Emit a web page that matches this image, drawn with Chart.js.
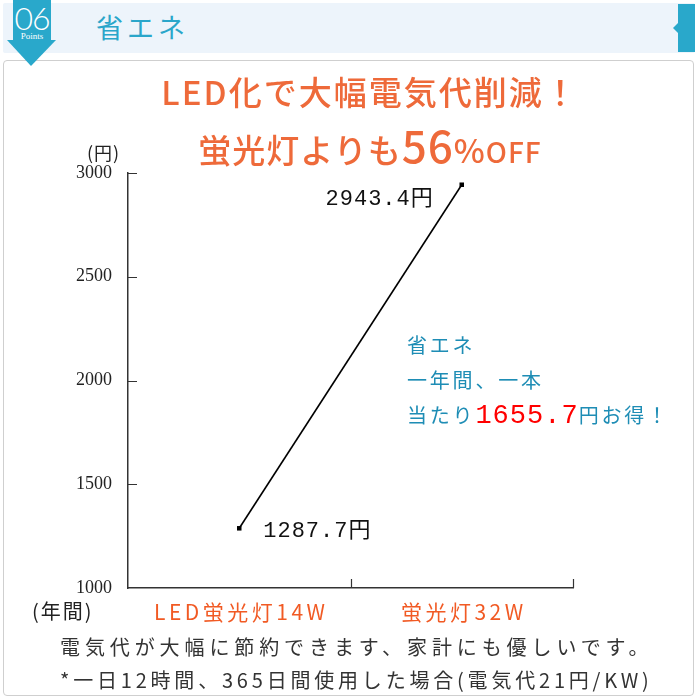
<!DOCTYPE html>
<html lang="ja">
<head>
<meta charset="utf-8">
<title>省エネ</title>
<script src="https://cdn.jsdelivr.net/npm/chart.js@4.4.1/dist/chart.umd.min.js"></script>
<style>
  html, body { margin: 0; padding: 0; background: #fff; }
  #stage { position: relative; width: 700px; height: 700px; overflow: hidden; font-family: "Noto Sans CJK JP", sans-serif; }
  #band { position: absolute; left: 3px; top: 3px; width: 692px; height: 50px; background: #EDF4FB; border-radius: 2px; }
  #frame { position: absolute; left: 3px; top: 60px; width: 689px; height: 634px; border: 1.5px solid #cfcfcf; border-radius: 4px; background: #fff; }
  #deco { position: absolute; left: 0; top: 0; }
  .t { position: absolute; white-space: nowrap; line-height: 1; }
  #head { left: 96px; top: 13px; font-size: 27px; color: #2AA6CA; letter-spacing: 4px; }
  #num { left: 13px; top: 2px; width: 38px; text-align: center; font-family: Lato, sans-serif; font-weight: 300; font-size: 32px; color: #fff; letter-spacing: -1px; }
  #pts { left: 13px; top: 32px; width: 38px; text-align: center; font-family: "Liberation Serif", serif; font-size: 9px; color: #fff; }
  #title1 { left: 0; width: 740px; text-align: center; top: 75px; font-size: 33px; font-weight: 500; color: #EE6A3A; letter-spacing: 2px; }
  #title2 { left: 0; width: 740px; text-align: center; top: 122px; font-size: 33px; font-weight: 500; color: #EE6A3A; letter-spacing: 1px; }
  #title2 .big { font-size: 44px; }
  #title2 .small { font-size: 28px; }
  #unitY { left: 87px; top: 143px; font-size: 18px; color: #222; letter-spacing: 1px; }
  #unitX { left: 32px; top: 601px; font-size: 20px; color: #222; letter-spacing: 2px; }
  #note { left: 407px; top: 327px; font-size: 20px; color: #1E8DB5; line-height: 35px; letter-spacing: 2.8px; }
  #note .red { color: #FF0000; font-size: 27px; font-family: "Liberation Mono", "Noto Sans CJK JP", monospace; letter-spacing: 1px; }
  #foot1 { left: 60px; top: 637px; font-size: 20px; color: #333; letter-spacing: 4.9px; }
  #foot2 { left: 60px; top: 670px; font-size: 20px; color: #333; letter-spacing: 3.8px; }
  #chart { position: absolute; left: 0; top: 0; }
</style>
</head>
<body>
<div id="stage">
  <div id="band"></div>
  <div id="frame"></div>
  <svg id="deco" width="700" height="80">
    <rect x="13" y="0" width="38" height="42" fill="#29A8CB"/>
    <polygon points="7,40 56,40 31,66" fill="#29A8CB"/>
    <rect x="678" y="4" width="17" height="48" fill="#29A8CB"/>
    <polygon points="673,28 678,23 678,33" fill="#29A8CB"/>
  </svg>
  <div class="t" id="num">06</div>
  <div class="t" id="pts">Points</div>
  <div class="t" id="head">省エネ</div>

  <canvas id="chart" width="700" height="700"></canvas>

  <div class="t" id="title1">LED化で大幅電気代削減！</div>
  <div class="t" id="title2">蛍光灯よりも<span class="big">56</span>%<span class="small">OFF</span></div>
  <div class="t" id="unitY">(円)</div>
  <div class="t" id="unitX">(年間)</div>
  <div class="t" id="note">省エネ<br>一年間、一本<br>当たり<span class="red" id="saving"></span>円お得！</div>
  <div class="t" id="foot1">電気代が大幅に節約できます、家計にも優しいです。</div>
  <div class="t" id="foot2">*一日12時間、365日間使用した場合(電気代21円/KW)</div>
</div>

<script>
// Yearly electricity cost per tube
const categories = ['LED蛍光灯14W', '蛍光灯32W'];
const costs = [1287.7, 2943.4];
const yTickValues = [1000, 1500, 2000, 2500, 3000];
const yMin = 1000;
const yMax = 3000;

// Saving per tube per year, from the two costs
document.getElementById('saving').textContent = (costs[1] - costs[0]).toFixed(1);

const axisColor = '#333';

// Inward tick marks on both axes
const innerTicks = {
  id: 'innerTicks',
  afterDraw(chart) {
    const { ctx, scales: { x, y } } = chart;
    ctx.save();
    ctx.strokeStyle = axisColor;
    ctx.lineWidth = 1.2;
    ctx.beginPath();
    yTickValues.forEach(v => {
      if (v === yMin) return;
      const py = Math.round(y.getPixelForValue(v)) + 0.5;
      ctx.moveTo(x.left, py);
      ctx.lineTo(x.left + 9, py);
    });
    for (let i = 1; i <= categories.length; i++) {
      const px = Math.round(x.getPixelForValue(i - 0.5)) + 0.5;
      ctx.moveTo(px, y.bottom);
      ctx.lineTo(px, y.bottom - 9);
    }
    ctx.stroke();
    ctx.restore();
  }
};

// Category names under the x axis, spaced out
const categoryLabels = {
  id: 'categoryLabels',
  afterDraw(chart) {
    const { ctx, scales: { x } } = chart;
    ctx.save();
    ctx.fillStyle = '#F15A24';
    ctx.font = '21px "Noto Sans CJK JP", sans-serif';
    ctx.letterSpacing = '3.5px';
    ctx.textAlign = 'center';
    ctx.textBaseline = 'middle';
    categories.forEach((c, i) => {
      ctx.fillText(c, x.getPixelForValue(i) + 2, x.top + 24);
    });
    ctx.restore();
  }
};

// Value labels beside each point
const valueLabels = {
  id: 'valueLabels',
  afterDatasetsDraw(chart) {
    const { ctx } = chart;
    const meta = chart.getDatasetMeta(0);
    ctx.save();
    ctx.fillStyle = '#111';
    ctx.font = '22px "Liberation Mono", "Noto Sans CJK JP", monospace';
    ctx.letterSpacing = '1px';
    ctx.textBaseline = 'middle';
    meta.data.forEach((pt, i) => {
      const text = costs[i].toFixed(1) + '円';
      if (i === 0) {
        ctx.textAlign = 'left';
        ctx.fillText(text, pt.x + 24, pt.y + 3);
      } else {
        ctx.textAlign = 'right';
        ctx.fillText(text, pt.x - 28, pt.y + 14);
      }
    });
    ctx.restore();
  }
};

new Chart(document.getElementById('chart'), {
  type: 'line',
  data: {
    labels: categories,
    datasets: [{
      data: costs,
      borderColor: '#000',
      borderWidth: 1.6,
      tension: 0,
      pointStyle: 'rect',
      pointRadius: 3.2,
      pointBackgroundColor: '#000',
      pointBorderColor: '#000',
      pointBorderWidth: 0
    }]
  },
  options: {
    responsive: false,
    animation: false,
    events: [],
    layout: { padding: { left: 68, right: 127, top: 173, bottom: 72 } },
    plugins: { legend: { display: false }, tooltip: { enabled: false } },
    scales: {
      x: {
        type: 'category',
        offset: true,
        grid: { display: false },
        border: { display: true, color: axisColor, width: 1.5 },
        ticks: { display: false },
        afterFit(scale) { scale.height = 40; }
      },
      y: {
        min: yMin,
        max: yMax,
        afterBuildTicks(scale) { scale.ticks = yTickValues.map(v => ({ value: v })); },
        grid: { display: false },
        border: { display: true, color: axisColor, width: 1.5 },
        ticks: {
          color: '#222',
          font: { family: '"Liberation Serif", serif', size: 18 },
          padding: 8,
          callback: v => String(v)
        },
        afterFit(scale) { scale.width = 60; }
      }
    }
  },
  plugins: [innerTicks, categoryLabels, valueLabels]
});
</script>
</body>
</html>
